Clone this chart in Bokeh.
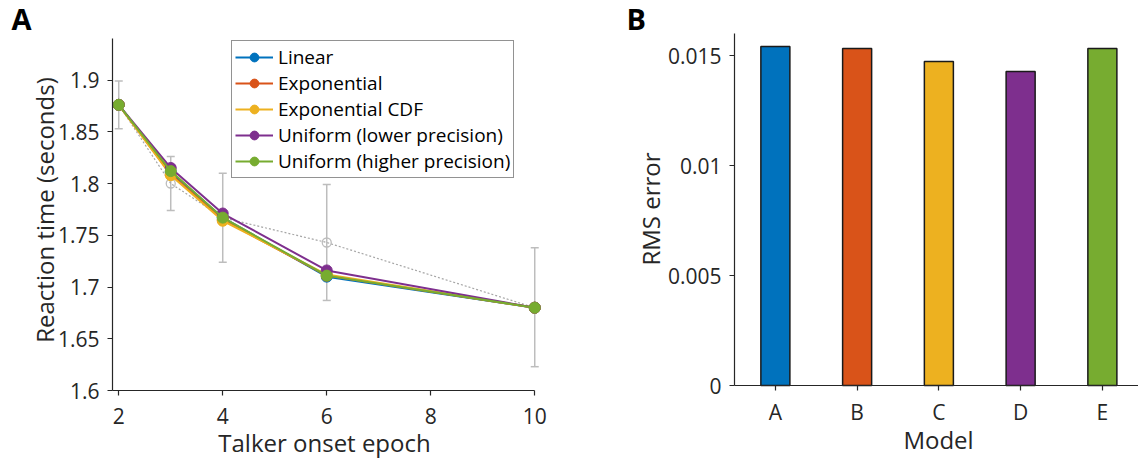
import math
from bokeh.plotting import figure
from bokeh.layouts import row
from bokeh.models import (Range1d, FixedTicker, NumeralTickFormatter, Legend, LegendItem,
                          Whisker, TeeHead, ColumnDataSource, Label)
from bokeh.embed import file_html
from bokeh.resources import INLINE

# ---------------- data ----------------
epochs = [2, 3, 4, 6, 10]
observed = [1.876, 1.800, 1.767, 1.743, 1.680]
obs_upper = [1.899, 1.826, 1.810, 1.799, 1.738]
obs_lower = [1.853, 1.774, 1.724, 1.687, 1.623]

model_names = ["Linear", "Exponential", "Exponential CDF",
               "Uniform (lower precision)", "Uniform (higher precision)"]
linear = [1.876, 1.811, 1.767, 1.710, 1.680]
exponential = [1.876, 1.809, 1.765, 1.711, 1.680]
exponential_cdf = [1.876, 1.808, 1.764, 1.712, 1.680]
uniform_lower = [1.876, 1.815, 1.771, 1.716, 1.680]
uniform_higher = [1.876, 1.812, 1.767, 1.711, 1.680]
model_values = [linear, exponential, exponential_cdf, uniform_lower, uniform_higher]

model_letters = ["A", "B", "C", "D", "E"]
rms_error = [0.01541, 0.01532, 0.01473, 0.01427, 0.01532]

x_ticks_a = [2, 4, 6, 8, 10]
y_ticks_a = [1.6, 1.65, 1.7, 1.75, 1.8, 1.85, 1.9]
y_ticks_b = [0, 0.005, 0.01, 0.015]

colors = ["#0072BD", "#D95319", "#EDB120", "#7E2F8E", "#77AC30"]
FONT = "Open Sans"
TXT = "#262626"


def style_axes(p):
    for ax in (p.xaxis[0], p.yaxis[0]):
        ax.axis_line_color = TXT
        ax.axis_line_width = 1.2
        ax.major_tick_line_color = TXT
        ax.major_tick_line_width = 1.2
        ax.major_tick_in = 0
        ax.major_tick_out = 5
        ax.minor_tick_line_color = None
        ax.major_label_text_font = FONT
        ax.major_label_text_font_size = "21px"
        ax.major_label_text_color = TXT
    p.xgrid.grid_line_color = None
    p.ygrid.grid_line_color = None
    p.outline_line_color = None


def text_label(p, x, y, text, size, angle=0.0, align="center", bold=False, color=TXT):
    p.add_layout(Label(x=x, y=y, x_units="screen", y_units="screen", text=text,
                       angle=angle, text_align=align, text_baseline="alphabetic",
                       text_font=FONT, text_font_size=size,
                       text_font_style="bold" if bold else "normal",
                       text_color=color))


# ---------------- panel A ----------------
# the plotting frame covers the whole canvas; the axes sit at fixed data locations
pA = figure(width=570, height=459, output_backend="svg", toolbar_location=None, title=None,
            x_range=Range1d(1.88 - 112 / 52, 1.88 + 458 / 52),
            y_range=Range1d(1.6 - 69 / 1035, 1.6 + 390 / 1035),
            min_border=0)
style_axes(pA)
pA.xaxis.fixed_location = 1.6
pA.yaxis.fixed_location = 1.88
pA.xaxis.bounds = (1.88, 10)
pA.yaxis.bounds = (1.6, 1.94)
pA.xaxis.ticker = FixedTicker(ticks=x_ticks_a)
pA.yaxis.ticker = FixedTicker(ticks=y_ticks_a)
pA.yaxis.formatter = NumeralTickFormatter(format="0.0[0]")
pA.xaxis.major_label_standoff = 12
pA.yaxis.major_label_standoff = 8

src_obs = ColumnDataSource(dict(x=epochs, y=observed, up=obs_upper, lo=obs_lower))
wh = Whisker(source=src_obs, base="x", upper="up", lower="lo",
             line_color="#bdbdbd", line_width=1.5,
             upper_head=TeeHead(size=8, line_color="#bdbdbd", line_width=1.5),
             lower_head=TeeHead(size=8, line_color="#bdbdbd", line_width=1.5))
pA.add_layout(wh)
pA.line("x", "y", source=src_obs, line_color="#a6a6a6", line_width=1.2, line_dash="2 2")
pA.scatter("x", "y", source=src_obs, size=9, fill_color=None, line_color="#bdbdbd", line_width=1.3)

items = []
for name, vals, c in zip(model_names, model_values, colors):
    r1 = pA.line(epochs, vals, line_color=c, line_width=2)
    r2 = pA.scatter(epochs, vals, size=11, fill_color=c, line_color=c)
    items.append(LegendItem(label=name, renderers=[r1, r2]))

leg = Legend(items=items, location=(231, 281), orientation="vertical",
             border_line_color="#262626", border_line_width=1.2,
             background_fill_color="white", background_fill_alpha=1,
             label_text_font=FONT, label_text_font_size="19px", label_text_color="#000000",
             glyph_width=38, glyph_height=22, label_height=22, spacing=0,
             padding=3, margin=0, label_standoff=5)
pA.add_layout(leg, "center")

text_label(pA, 324, 17, "Talker onset epoch", "24px")
text_label(pA, 44, 249.5, "Reaction time (seconds)", "24px", angle=math.pi / 2)
text_label(pA, 11, 441, "A", "29px", align="left", bold=True, color="#000000")

# ---------------- panel B ----------------
xs = list(range(1, len(model_letters) + 1))
pB = figure(width=568, height=459, output_backend="svg", toolbar_location=None, title=None,
            x_range=Range1d(0.5 - 164 / 81.75, 0.5 + 404 / 81.75),
            y_range=Range1d(-74 / 22000, 385 / 22000),
            min_border=0)
style_axes(pB)
pB.xaxis.fixed_location = 0
pB.yaxis.fixed_location = 0.5
pB.yaxis.bounds = (0, 0.016)
pB.xaxis.bounds = (0.5, 0.5 + 404 / 81.75)
pB.vbar(x=xs, top=rms_error, width=0.355, bottom=0, fill_color=colors,
        line_color="#1a1a1a", line_width=1.5)
pB.xaxis.ticker = FixedTicker(ticks=xs)
pB.xaxis.major_label_overrides = {i: l for i, l in zip(xs, model_letters)}
pB.yaxis.ticker = FixedTicker(ticks=y_ticks_b)
pB.yaxis.formatter = NumeralTickFormatter(format="0.[000]")
pB.xaxis.major_label_standoff = 7
pB.yaxis.major_label_standoff = 8

text_label(pB, 368, 20, "Model", "24px")
text_label(pB, 80, 250.5, "RMS error", "24px", angle=math.pi / 2)
text_label(pB, 56, 441, "B", "29px", align="left", bold=True, color="#000000")

layout = row(pA, pB)
open("out.html", "w").write(file_html(layout, INLINE))
